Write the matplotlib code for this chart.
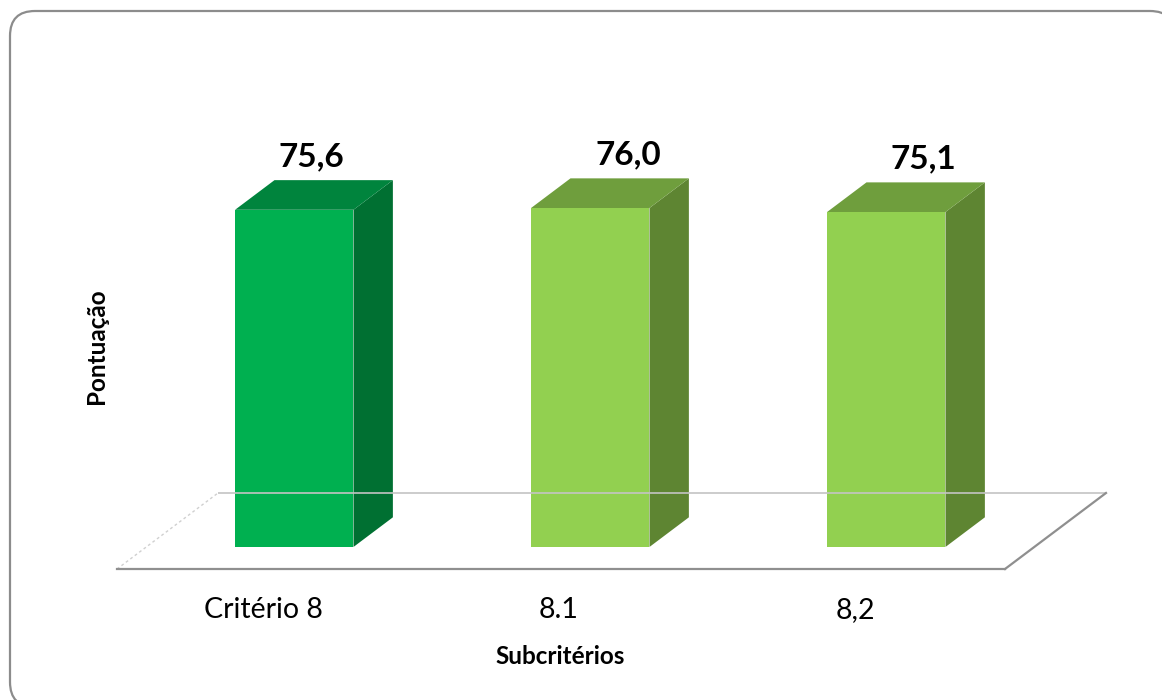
"""3D-style column chart: Critério 8 scores by subcriterion."""

import matplotlib

matplotlib.use("Agg")

import matplotlib.pyplot as plt
from matplotlib.patches import FancyBboxPatch, Polygon

categories = ["Critério 8", "8.1", "8,2"]
scores = [75.6, 76.0, 75.1]
value_labels = ["75,6", "76,0", "75,1"]

FRONT = ["#00B050", "#92D050", "#92D050"]
TOP = ["#00843D", "#6F9E3D", "#6F9E3D"]
SIDE = ["#007032", "#5E8532", "#5E8532"]

plt.rcParams["font.family"] = ["Lato", "DejaVu Sans"]

fig = plt.figure(figsize=(11.62, 7.0), dpi=100)
ax = fig.add_axes([0, 0, 1, 1])
ax.set_xlim(0, 1162)
ax.set_ylim(700, 0)
ax.axis("off")

# outer rounded frame
ax.add_patch(
    FancyBboxPatch(
        (10, 11), 1165, 696,
        boxstyle="round,pad=0,rounding_size=25",
        facecolor="white", edgecolor="#8c8c8c", linewidth=1.6,
    )
)

# floor geometry (pixel space)
floor_x0 = 117
floor_y0 = 569
cat_w = 296
depth_dx, depth_dy = 101, -76
px_per_unit = 4.46
n = len(categories)
floor_x1 = floor_x0 + n * cat_w

# floor outline
ax.plot([floor_x0 + depth_dx, floor_x1 + depth_dx], [floor_y0 + depth_dy] * 2,
        color="#c4c4c4", lw=1.2, solid_capstyle="butt")
ax.plot([floor_x0, floor_x0 + depth_dx], [floor_y0, floor_y0 + depth_dy],
        color="#d0d0d0", lw=1.0, ls=(0, (2, 2)))
ax.plot([floor_x0, floor_x1], [floor_y0, floor_y0], color="#8f8f8f", lw=1.6)
ax.plot([floor_x1, floor_x1 + depth_dx], [floor_y0, floor_y0 + depth_dy],
        color="#8f8f8f", lw=1.6)

# bars sit in the middle of the floor depth
d_front, d_back = 0.29, 0.68
bar_frac_l, bar_frac_r = 0.30, 0.70
label_nudge = [17, 38, 37]

for i, (cat, val, lab) in enumerate(zip(categories, scores, value_labels)):
    xl = floor_x0 + cat_w * (i + bar_frac_l) + depth_dx * d_front
    xr = floor_x0 + cat_w * (i + bar_frac_r) + depth_dx * d_front
    yb = floor_y0 + depth_dy * d_front
    yt = yb - val * px_per_unit
    ddx = depth_dx * (d_back - d_front)
    ddy = depth_dy * (d_back - d_front)

    # side face
    ax.add_patch(Polygon([(xr, yb), (xr + ddx, yb + ddy), (xr + ddx, yt + ddy), (xr, yt)],
                         closed=True, facecolor=SIDE[i], edgecolor="none"))
    # top face
    ax.add_patch(Polygon([(xl, yt), (xr, yt), (xr + ddx, yt + ddy), (xl + ddx, yt + ddy)],
                         closed=True, facecolor=TOP[i], edgecolor="none"))
    # front face
    ax.add_patch(Polygon([(xl, yb), (xr, yb), (xr, yt), (xl, yt)],
                         closed=True, facecolor=FRONT[i], edgecolor="none"))

    ax.text((xl + xr) / 2 + label_nudge[i], yt - 53, lab, ha="center", va="center",
            fontsize=24, fontweight="bold", color="black")

    ax.text(floor_x0 + cat_w * (i + 0.5) - 2, 610, cat, ha="center", va="center",
            fontsize=20.5, color="black")

ax.text(560, 656, "Subcritérios", ha="center", va="center",
        fontsize=17.5, fontweight="bold")
ax.text(97, 346, "Pontuação", ha="center", va="center", rotation=90,
        fontsize=17.5, fontweight="bold")

fig.savefig("out.png", dpi=100)
plt.close(fig)
